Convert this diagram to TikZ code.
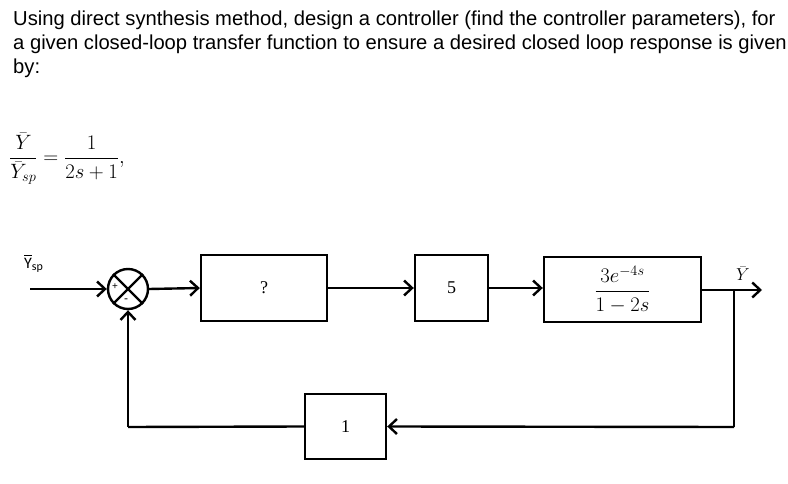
\documentclass[tikz,border=0pt]{standalone}
\usepackage{amsmath}
\usepackage{fontspec}
\setmainfont{Liberation Sans}
\newfontfamily\calib{Carlito}
\newfontfamily\serifbox{Liberation Serif}
\usetikzlibrary{arrows.meta}
\begin{document}
\begin{tikzpicture}[x=1pt,y=-1pt,
  every node/.style={inner sep=0pt},
  ln/.style={line width=2.4pt},
  arr/.style={ln,-{Straight Barb[length=8pt,width=15pt,line width=2.4pt]}},
  blk/.style={draw,line width=2.4pt,font=\fontsize{18}{18}\selectfont\serifbox},
  txt/.style={anchor=base west,font=\fontsize{20.2}{24}\selectfont}]
\useasboundingbox (0,0) rectangle (788,484);
\fill[white] (0,0) rectangle (788,484);
% text
\node[txt] (t1) at (13,26) {Using direct synthesis method, design a controller (find the controller parameters), for};
\node[txt] (t2) at (13,50) {a given closed-loop transfer function to ensure a desired closed loop response is given};
\node[txt] (t3) at (13,74) {by:};
\node[anchor=base west,font=\fontsize{20}{20}\selectfont] (eq) at (9,164)
  {$\dfrac{\bar{Y}}{\bar{Y}_{sp}}=\dfrac{1}{2s+1},$};
% diagram
\coordinate (in) at (30,289);
\node[draw,ln,circle,minimum size=40pt] (sum) at (128,289) {};
\draw[ln] (sum.north west) -- (sum.south east) (sum.north east) -- (sum.south west);
\node[font=\fontsize{10}{10}\selectfont] (plus) at (115,287) {+};
\node[font=\fontsize{12}{12}\selectfont] (minus) at (126,301) {-};
\node[blk,minimum width=126pt,minimum height=66pt] (c) at (264,288) {?};
\node[blk,minimum width=73pt,minimum height=66pt] (k) at (451.5,288) {5};
\node[blk,minimum width=157pt,minimum height=65pt,font=\fontsize{21}{21}\selectfont] (g) at (622.5,289.5)
  {$\dfrac{3e^{-4s}}{1-2s}$};
\node[blk,minimum width=81pt,minimum height=65pt] (h) at (345.5,426.5) {1};
\coordinate (br) at (734,290);
\coordinate (out) at (762,290);
\coordinate (br2) at (734,427);
\coordinate (lc) at (128,427);
\node[anchor=south west,font=\fontsize{16}{16}\selectfont\calib] (ysp) at (24,273)
  {$\overline{\mbox{Y}}_{\mbox{\fontsize{12}{12}\selectfont sp}}$};
\node[anchor=south,font=\fontsize{17}{17}\selectfont] (ylab) at (743,281) {$\bar{Y}$};
\draw[arr] (in) -- (sum.west);
\draw[arr] (sum.east) -- (c.west);
\draw[arr] (c.east) -- (k.west);
\draw[arr] (k.east) -- (k.east -| g.west);
\draw[arr] (g.east |- br) -- (out);
\draw[ln] (br) -- (br2);
\draw[arr] (br2) -- (h.east);
\draw[ln] (h.west) -- (lc);
\draw[arr] (lc) -- (sum.south);
\end{tikzpicture}
\end{document}
